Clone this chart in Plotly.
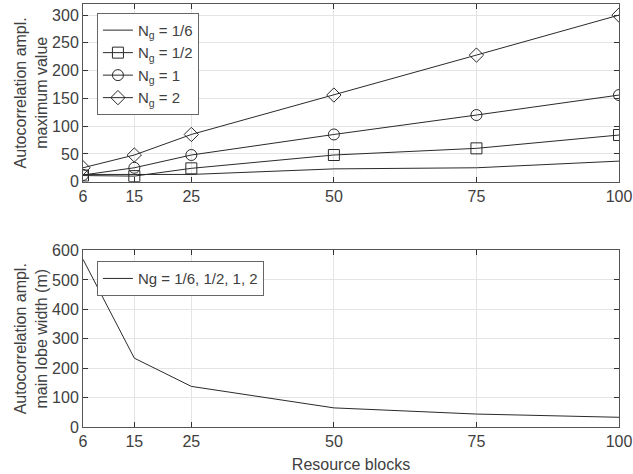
import plotly.graph_objects as go

rb = [6, 15, 25, 50, 75, 100]
amp_1_6 = [13, 13, 13, 23, 25, 37]
amp_1_2 = [11, 10, 24, 48, 60, 84]
amp_1 = [12, 25, 48, 85, 120, 156]
amp_2 = [25, 48, 85, 156, 228, 300]
width_all = [570, 234, 138, 65, 44, 33]
xticks = [6, 15, 25, 50, 75, 100]

names = ["N<sub>g</sub> = 1/6", "N<sub>g</sub> = 1/2", "N<sub>g</sub> = 1", "N<sub>g</sub> = 2"]
series = [amp_1_6, amp_1_2, amp_1, amp_2]
symbols = [None, "square-open", "circle-open", "diamond-open"]

fig = go.Figure()
lc = "#2a2a2a"
for nm, ys, sym in zip(names, series, symbols):
    if sym is None:
        fig.add_trace(go.Scatter(x=rb, y=ys, name=nm, mode="lines",
                                 line=dict(color=lc, width=1), xaxis="x", yaxis="y", legend="legend"))
    else:
        fig.add_trace(go.Scatter(x=rb, y=ys, name=nm, mode="lines+markers",
                                 line=dict(color=lc, width=1),
                                 marker=dict(symbol=sym, size=11, color=lc, line=dict(width=1, color=lc)),
                                 xaxis="x", yaxis="y", legend="legend"))

fig.add_trace(go.Scatter(x=rb, y=width_all, name="Ng = 1/6, 1/2, 1, 2", mode="lines",
                         line=dict(color=lc, width=1), xaxis="x2", yaxis="y2", legend="legend2"))

tc = "#404040"
ff = "Liberation Sans, Arial"
axis_common = dict(showline=True, linecolor="#555555", linewidth=1, mirror="ticks",
                   ticks="inside", ticklen=5, tickcolor="#333333", automargin=False,
                   showgrid=True, gridcolor="#e4e4e4", gridwidth=1, zeroline=False,
                   tickfont=dict(family=ff, size=16, color=tc))

fig.update_layout(
    width=633, height=474,
    margin=dict(l=83, r=14, t=4, b=47),
    plot_bgcolor="white", paper_bgcolor="white",
    font=dict(family=ff, size=16, color=tc),
    xaxis=dict(domain=[0, 1], range=[6, 100], tickvals=xticks, anchor="y", **axis_common),
    yaxis=dict(domain=[0.580, 1], range=[0, 320], tickvals=[0, 50, 100, 150, 200, 250, 300],
               anchor="x", title=dict(text="Autocorrelation ampl.<br>maximum value", standoff=0,
                                      font=dict(size=16, color=tc)), **axis_common),
    xaxis2=dict(domain=[0, 1], range=[6, 100], tickvals=xticks, anchor="y2",
                title=dict(text="Resource blocks", standoff=9, font=dict(size=16, color=tc)), **axis_common),
    yaxis2=dict(domain=[0, 0.4173], range=[0, 600], tickvals=[0, 100, 200, 300, 400, 500, 600],
                anchor="x2", title=dict(text="Autocorrelation ampl.<br>main lobe width (m)", standoff=0,
                                        font=dict(size=16, color=tc)), **axis_common),
    legend=dict(x=0.026, y=0.979, xanchor="left", yanchor="top", bgcolor="white",
                bordercolor="#666666", borderwidth=1, font=dict(size=15, color=tc),
                tracegroupgap=0),
    legend2=dict(x=0.026, y=0.392, xanchor="left", yanchor="top", bgcolor="white",
                 bordercolor="#666666", borderwidth=1, font=dict(size=15, color=tc)),
    showlegend=True,
)

fig.write_html("out.html", config={"displayModeBar": False},
               post_script="document.body.style.margin='0';")
